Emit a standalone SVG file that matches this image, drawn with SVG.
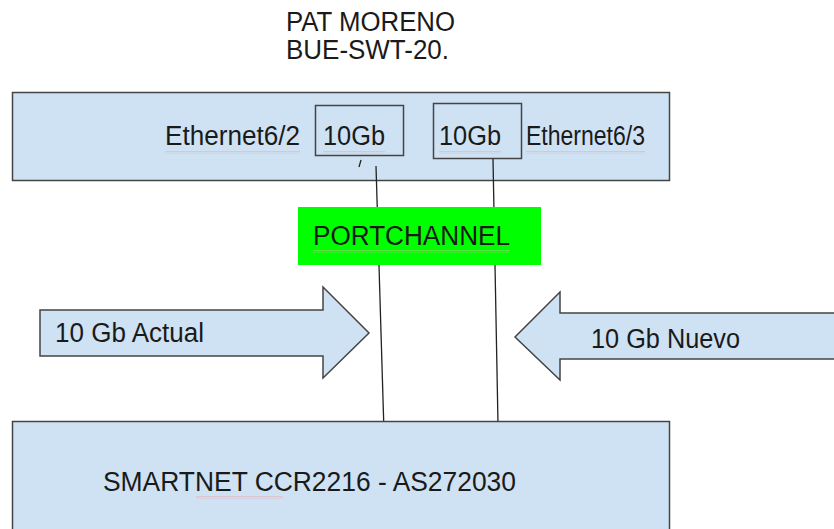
<svg xmlns="http://www.w3.org/2000/svg" width="834" height="529" viewBox="0 0 834 529">
  <defs>
    <pattern id="sq" width="4" height="3" patternUnits="userSpaceOnUse">
      <path d="M0,2.5 L2,0.5 L4,2.5" fill="none" stroke="#e79a9a" stroke-width="0.8"/>
    </pattern>
    <pattern id="sqg" width="4" height="3" patternUnits="userSpaceOnUse">
      <path d="M0,2.5 L2,0.5 L4,2.5" fill="none" stroke="#d9b89a" stroke-width="0.8"/>
    </pattern>
  </defs>
  <style>
    .t { font-family: "Liberation Sans", Arial, sans-serif; font-size: 27px; fill: #1a1a1a; }
    .box { fill: #cfe2f3; stroke: #444; stroke-width: 1.5; }
    .port { fill: none; stroke: #444; stroke-width: 1.5; }
    .wire { stroke: #222; stroke-width: 1.3; fill: none; }
  </style>
  <rect width="834" height="529" fill="#ffffff"/>

  <g id="title">
    <text class="t" x="286" y="31" textLength="169" lengthAdjust="spacingAndGlyphs">PAT MORENO</text>
    <text class="t" x="286" y="59" textLength="163" lengthAdjust="spacingAndGlyphs">BUE-SWT-20.</text>
  </g>

  <g id="switch">
    <rect class="box" x="12.5" y="92.5" width="657" height="88"/>
    <rect class="port" x="315.5" y="105.5" width="88" height="50"/>
    <rect class="port" x="433.5" y="103.5" width="88" height="55"/>
    <text class="t" x="165" y="145" textLength="135" lengthAdjust="spacingAndGlyphs">Ethernet6/2</text>
    <text class="t" x="323" y="145" textLength="62" lengthAdjust="spacingAndGlyphs">10Gb</text>
    <text class="t" x="439" y="145" textLength="62" lengthAdjust="spacingAndGlyphs">10Gb</text>
    <text class="t" x="526" y="145" textLength="119" lengthAdjust="spacingAndGlyphs">Ethernet6/3</text>
    <rect x="165" y="151" width="135" height="3" fill="url(#sq)"/>
    <rect x="323" y="151" width="62" height="3" fill="url(#sq)"/>
    <rect x="439" y="151" width="62" height="3" fill="url(#sq)"/>
    <rect x="526" y="151" width="119" height="3" fill="url(#sq)"/>
  </g>

  <g id="connectors">
    <path class="wire" d="M361,160 L359,167"/>
    <line class="wire" x1="376" y1="166" x2="384" y2="432"/>
    <line class="wire" x1="493" y1="159" x2="498" y2="424"/>
  </g>

  <g id="portchannel">
    <rect x="298" y="207" width="243" height="58" fill="#00ff00"/>
    <text class="t" x="313" y="245" textLength="197" lengthAdjust="spacingAndGlyphs">PORTCHANNEL</text>
    <rect x="313" y="250" width="197" height="3" fill="url(#sqg)"/>
  </g>

  <g id="arrow-actual">
    <polygon class="box" points="40,310 323,310 323,287 369,333 323,378 323,356 40,356"/>
    <text class="t" x="55" y="342" textLength="149" lengthAdjust="spacingAndGlyphs">10 Gb Actual</text>
  </g>

  <g id="arrow-nuevo">
    <polygon class="box" points="840,313 560,313 560,292 515,337 560,380 560,359 840,359"/>
    <text class="t" x="591" y="348" textLength="149" lengthAdjust="spacingAndGlyphs">10 Gb Nuevo</text>
  </g>

  <g id="router">
    <rect class="box" x="12.5" y="421.5" width="657" height="120"/>
    <text class="t" x="103" y="491" textLength="413" lengthAdjust="spacingAndGlyphs">SMARTNET CCR2216 - AS272030</text>
    <rect x="196" y="496" width="87" height="3" fill="url(#sq)"/>
  </g>
</svg>
